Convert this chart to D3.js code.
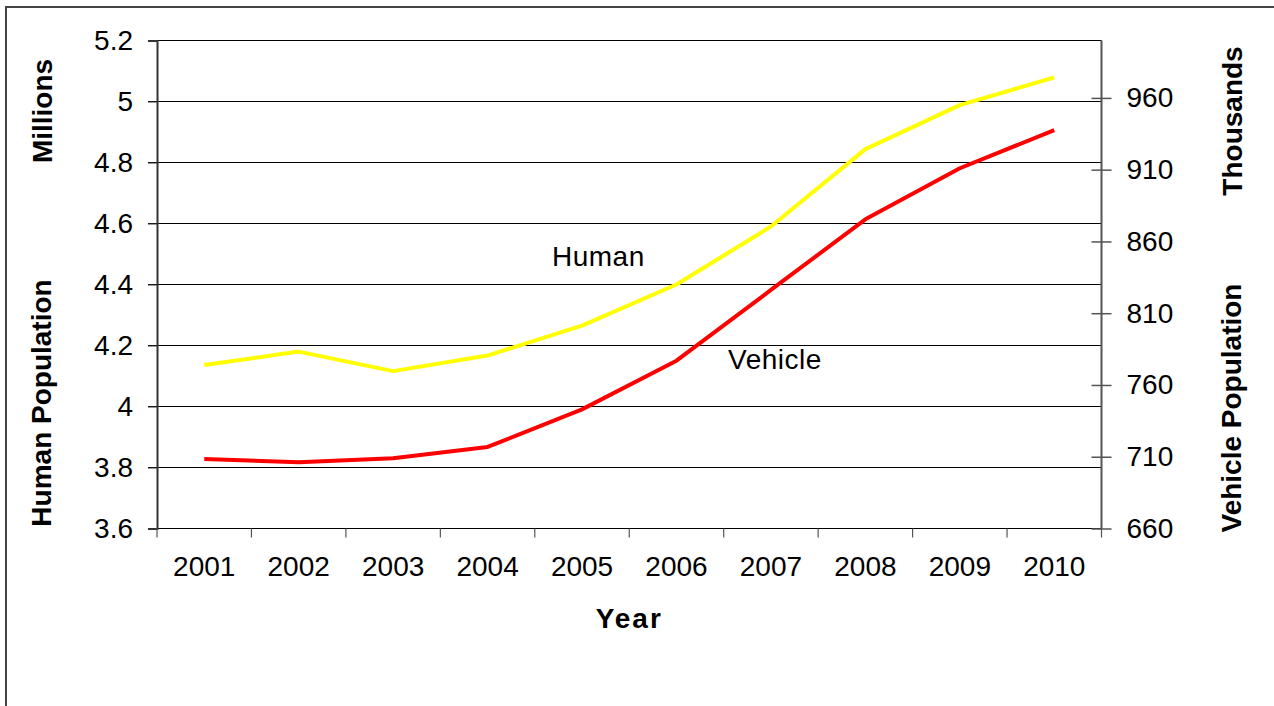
<!DOCTYPE html>
<html>
<head>
<meta charset="utf-8">
<script src="https://cdn.jsdelivr.net/npm/d3@7"></script>
<style>
  body { margin: 0; background: #fff; }
  text { font-family: "Liberation Sans", Arial, sans-serif; fill: #000; }
</style>
</head>
<body>
<script>
// data
var years = ['2001', '2002', '2003', '2004', '2005', '2006', '2007', '2008', '2009', '2010'];
var humanPop = [4.136, 4.18, 4.116, 4.167, 4.265, 4.40, 4.59, 4.844, 4.988, 5.079];      // millions
var vehiclePop = [708.4, 706.1, 708.9, 716.8, 743, 776.9, 826.2, 875.4, 911, 937.6];   // thousands
var leftTicks = [3.6, 3.8, 4, 4.2, 4.4, 4.6, 4.8, 5, 5.2];
var rightTicks = [660, 710, 760, 810, 860, 910, 960];

// SVG + Graph Setup //////////////////////
var margin = {top: 40.5, right: 172.5, bottom: 177.5, left: 157};
var width = 1274 - margin.left - margin.right;
var height = 706 - margin.top - margin.bottom;

var root = d3.select("body")
  .append("svg")
    .attr("width", 1274)
    .attr("height", 706);

// outer frame
root.append("rect")
  .attr("x", 6).attr("y", 7)
  .attr("width", 1400).attr("height", 800)
  .attr("fill", "none")
  .attr("stroke", "#444")
  .attr("stroke-width", 2);

var svg = root.append("g")
  .attr("transform", "translate(" + margin.left + "," + margin.top + ")");

// scales
var xScale = d3.scaleBand().domain(years).range([0, width]);
var yLeft = d3.scaleLinear().domain([3.6, 5.2]).range([height, 0]);
var yRight = d3.scaleLinear().domain([660, 1000]).range([height, 0]);

// gridlines
svg.append("g")
  .selectAll("line")
  .data(leftTicks)
  .enter().append("line")
    .attr("x1", -9)
    .attr("x2", width)
    .attr("y1", function(d) { return yLeft(d); })
    .attr("y2", function(d) { return yLeft(d); })
    .attr("stroke", "#000")
    .attr("stroke-width", 1.2);

// left axis
var leftAxis = d3.axisLeft(yLeft)
  .tickValues(leftTicks)
  .tickSize(9)
  .tickPadding(15)
  .tickFormat(function(d) { return String(+d.toFixed(1)); });

var gl = svg.append("g").call(leftAxis);
gl.select(".domain").attr("stroke", "#333").attr("stroke-width", 2);
gl.selectAll(".tick line").attr("stroke", "#333");
gl.selectAll("text").style("font-size", "28px").attr("fill", "#000");

// right axis
var rightAxis = d3.axisRight(yRight)
  .tickValues(rightTicks)
  .tickSize(10)
  .tickPadding(15);

var gr = svg.append("g")
  .attr("transform", "translate(" + width + ",0)")
  .call(rightAxis);
gr.select(".domain").attr("stroke", "#555").attr("stroke-width", 2).attr("d", "M0,0V" + height);
gr.selectAll(".tick line").attr("x1", -10).attr("stroke", "#555").attr("stroke-width", 1.5);
gr.selectAll("text").style("font-size", "28px").attr("fill", "#000");

// x axis: labels centred in bands, ticks on band edges
var xAxis = d3.axisBottom(xScale).tickSize(0).tickPadding(28);
var gx = svg.append("g")
  .attr("transform", "translate(0," + height + ")")
  .call(xAxis);
gx.select(".domain").remove();
gx.selectAll("text").style("font-size", "28px").attr("fill", "#000");

var edges = years.map(function(y) { return xScale(y); }).concat([xScale(years[years.length - 1]) + xScale.bandwidth()]);
svg.append("g")
  .selectAll("line")
  .data(edges)
  .enter().append("line")
    .attr("x1", function(d) { return d; })
    .attr("x2", function(d) { return d; })
    .attr("y1", height)
    .attr("y2", height + 9)
    .attr("stroke", "#555")
    .attr("stroke-width", 1.2);

// lines
var humanLine = d3.line()
  .x(function(d, i) { return xScale(years[i]) + xScale.bandwidth() / 2; })
  .y(function(d) { return yLeft(d); });

var vehicleLine = d3.line()
  .x(function(d, i) { return xScale(years[i]) + xScale.bandwidth() / 2; })
  .y(function(d) { return yRight(d); });

svg.append("path")
  .datum(humanPop)
  .attr("d", humanLine)
  .attr("fill", "none")
  .attr("stroke", "#ffff00")
  .attr("stroke-width", 4)
  .attr("stroke-linejoin", "round");

svg.append("path")
  .datum(vehiclePop)
  .attr("d", vehicleLine)
  .attr("fill", "none")
  .attr("stroke", "#ff0000")
  .attr("stroke-width", 4)
  .attr("stroke-linejoin", "round");

// annotations
root.append("text").attr("x", 552).attr("y", 266).style("font-size", "28px").style("letter-spacing", "0.5px").text("Human");
root.append("text").attr("x", 728).attr("y", 369).style("font-size", "28px").style("letter-spacing", "0.5px").text("Vehicle");

// axis titles
function vTitle(x, y, label) {
  root.append("text")
    .attr("transform", "translate(" + x + "," + y + ") rotate(-90)")
    .attr("text-anchor", "middle")
    .style("font-size", "28px")
    .style("font-weight", "bold")
    .text(label);
}
vTitle(52, 111, "Millions");
vTitle(51, 403, "Human Population");
vTitle(1242, 121, "Thousands");
vTitle(1241, 408, "Vehicle Population");

root.append("text")
  .attr("x", margin.left + width / 2)
  .attr("y", 628)
  .attr("text-anchor", "middle")
  .style("font-size", "28px")
  .style("font-weight", "bold")
  .style("letter-spacing", "2px")
  .text("Year");
</script>
</body>
</html>
